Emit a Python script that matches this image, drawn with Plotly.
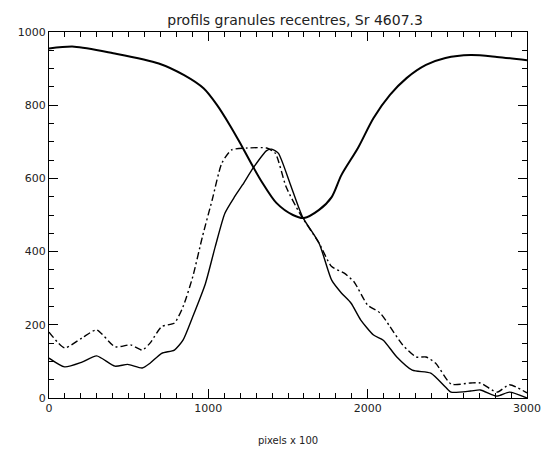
import plotly.graph_objects as go

# Profile across the line minimum (upper solid curve)
x_prof = [0, 159, 403, 689, 848, 970, 1055, 1134, 1195, 1274, 1335, 1427, 1531, 1600,
          1695, 1774, 1835, 1939, 2037, 2140, 2244, 2366, 2488, 2646, 2811, 3000]
y_prof = [955, 960, 942, 914, 882, 846, 800, 746, 700, 637, 591, 533, 500, 492,
          514, 549, 609, 683, 765, 828, 874, 910, 929, 937, 932, 923]

# Granule profile (lower solid curve)
x_gran = [0, 98, 207, 299, 414, 494, 585, 634, 707, 787, 841, 902, 982, 1043, 1104,
          1165, 1214, 1287, 1366, 1397, 1439, 1512, 1591, 1695, 1774, 1835, 1896,
          1957, 2037, 2098, 2183, 2280, 2396, 2488, 2524, 2646, 2707, 2811, 2890, 3000]
y_gran = [109, 85, 98, 115, 87, 92, 82, 95, 122, 131, 158, 222, 313, 413, 505,
          550, 582, 632, 676, 680, 669, 587, 495, 423, 322, 287, 259,
          213, 172, 158, 112, 76, 68, 30, 16, 19, 22, 5, 16, 0]

# Recentred granule profile (dash-dot curve)
x_rec = [0, 98, 207, 299, 414, 512, 585, 634, 707, 787, 841, 902, 963, 1024, 1085,
         1146, 1244, 1366, 1420, 1488, 1573, 1695, 1774, 1853, 1915, 2000, 2079,
         2140, 2220, 2305, 2366, 2427, 2524, 2646, 2707, 2811, 2890, 3000]
y_rec = [180, 137, 164, 186, 140, 145, 131, 150, 195, 205, 249, 331, 441, 541, 642,
         678, 683, 683, 669, 577, 505, 423, 359, 341, 317, 254, 232,
         195, 145, 112, 112, 95, 38, 41, 41, 16, 36, 14]

x_tickvals = [0, 1000, 2000, 3000]
y_tickvals = [0, 200, 400, 600, 800, 1000]

fig = go.Figure()
fig.add_trace(go.Scatter(x=x_prof, y=y_prof, mode="lines",
                         line=dict(color="black", width=2, shape="spline", smoothing=0.8)))
fig.add_trace(go.Scatter(x=x_gran, y=y_gran, mode="lines",
                         line=dict(color="black", width=1.4, shape="spline", smoothing=0.6)))
fig.add_trace(go.Scatter(x=x_rec, y=y_rec, mode="lines",
                         line=dict(color="black", width=1.4, shape="spline", smoothing=0.6,
                                   dash="7px,3px,2px,3px")))

tick_font = dict(family="DejaVu Sans", size=11, color="#222")

fig.update_xaxes(
    range=[0, 3000], tickmode="array", tickvals=x_tickvals,
    ticktext=[str(v) for v in x_tickvals],
    showgrid=False, zeroline=False, showline=True, linecolor="black", linewidth=1.2,
    mirror="allticks", ticks="inside", ticklen=9, tickcolor="black", tickwidth=1,
    tickfont=tick_font, ticklabeloverflow="allow",
    minor=dict(tickmode="linear", dtick=100, ticks="inside", ticklen=5,
               tickcolor="black", tickwidth=1, showgrid=False),
    title=dict(text="pixels x 100", font=dict(family="DejaVu Sans", size=10, color="#222"),
               standoff=22),
)
fig.update_yaxes(
    range=[0, 1000], tickmode="array", tickvals=y_tickvals,
    ticktext=[str(v) for v in y_tickvals],
    showgrid=False, zeroline=False, showline=True, linecolor="black", linewidth=1.2,
    mirror="allticks", ticks="inside", ticklen=9, tickcolor="black", tickwidth=1,
    tickfont=tick_font,
    minor=dict(tickmode="linear", dtick=50, ticks="inside", ticklen=5,
               tickcolor="black", tickwidth=1, showgrid=False),
)

fig.update_layout(
    width=549, height=453,
    margin=dict(l=49, r=8, t=32, b=55),
    paper_bgcolor="white", plot_bgcolor="white",
    showlegend=False,
    title=dict(text="profils granules recentres, Sr 4607.3",
               font=dict(family="DejaVu Sans", size=14, color="#222"),
               x=0.5375, xanchor="center", y=1 - 20 / 453, yanchor="middle"),
)

fig.write_html("out.html")
